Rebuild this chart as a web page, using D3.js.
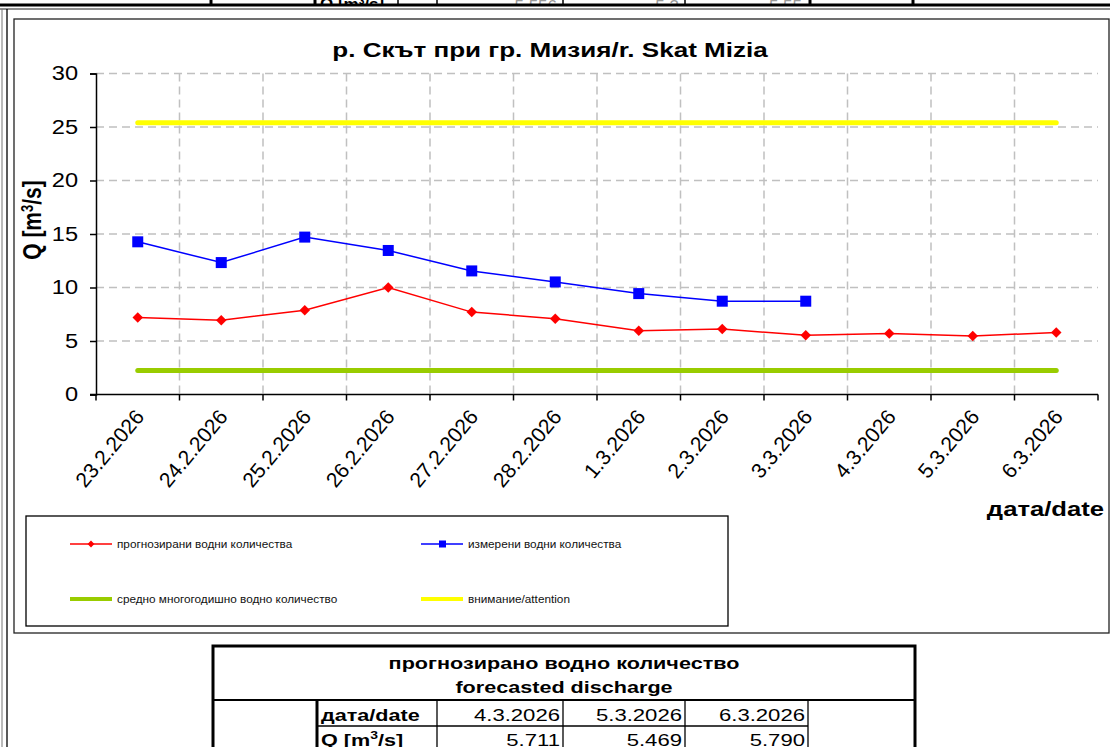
<!DOCTYPE html>
<html>
<head>
<meta charset="utf-8">
<script src="https://cdn.jsdelivr.net/npm/d3@7"></script>
<style>
    body { margin: 0; background: #fff; }
    svg { display: block; font-family: "Liberation Sans", Arial, sans-serif; }
</style>
</head>
<body>
<div id="chart"></div>
<script>
'use strict';

// дати по оста X
var dates = ['23.2.2026', '24.2.2026', '25.2.2026', '26.2.2026', '27.2.2026', '28.2.2026',
    '1.3.2026', '2.3.2026', '3.3.2026', '4.3.2026', '5.3.2026', '6.3.2026'];
// прогнозирани водни количества
var forecast = [7.2, 6.94, 7.88, 10.0, 7.7, 7.09, 5.96, 6.12, 5.53, 5.711, 5.469, 5.790];
// измерени водни количества
var measured = [14.27, 12.33, 14.71, 13.46, 11.55, 10.52, 9.43, 8.72, 8.72, null, null, null];
// средно многогодишно и праг за внимание
var meanLevel = [2.25];
var attentionLevel = [25.4];
var yTicks = [0, 5, 10, 15, 20, 25, 30];
// таблица отдолу
var tableDates = ['4.3.2026', '5.3.2026', '6.3.2026'];
var tableValues = ['5.711', '5.469', '5.790'];

var W = 1110, H = 747;
var svg = d3.select('#chart').append('svg').attr('width', W).attr('height', H);

// разтягане на текста по хоризонтала (оригиналът е разпънат)
function stretch(sel, k) {
    sel.each(function () {
        var len = this.getComputedTextLength();
        d3.select(this).attr('textLength', len * k).attr('lengthAdjust', 'spacingAndGlyphs');
    });
}

// ---- горна лента (остатък от таблица) ----
var topCols = [211, 315, 398, 437, 563, 685, 810, 913];
svg.append('g').selectAll('line').data(topCols).enter().append('line')
    .attr('x1', function (d) { return d; }).attr('x2', function (d) { return d; })
    .attr('y1', 0).attr('y2', 5)
    .attr('stroke', '#000').attr('stroke-width', function (d, i) { return (i === 1 || i === 6 || i === 7 || i === 0) ? 3 : 1.5; });
var clip = svg.append('clipPath').attr('id', 'topclip');
clip.append('rect').attr('x', 0).attr('y', 0).attr('width', W).attr('height', 4);
var topTxt = svg.append('g').attr('clip-path', 'url(#topclip)');
topTxt.append('text').attr('x', 320).attr('y', 10).attr('font-size', 17).attr('font-weight', 'bold').text('Q [m³/s]');
topTxt.selectAll('text.v').data(['5.556', '5.3', '5.55']).enter().append('text')
    .attr('class', 'v')
    .attr('x', function (d, i) { return [560, 682, 805][i] - 3; }).attr('y', 12)
    .attr('text-anchor', 'end').attr('font-size', 17).attr('fill', '#999').text(function (d) { return d; });
svg.append('line').attr('x1', 0).attr('x2', W).attr('y1', 5).attr('y2', 5).attr('stroke', '#000').attr('stroke-width', 3);
svg.append('line').attr('x1', 0).attr('x2', W).attr('y1', 9).attr('y2', 9).attr('stroke', '#222').attr('stroke-width', 1.2);

// ---- рамки ----
svg.append('line').attr('x1', 2).attr('x2', 2).attr('y1', 9).attr('y2', H).attr('stroke', '#777').attr('stroke-width', 1);
svg.append('line').attr('x1', 7).attr('x2', 7).attr('y1', 9).attr('y2', H).attr('stroke', '#000').attr('stroke-width', 1.3);
svg.append('rect').attr('x', 14).attr('y', 19).attr('width', 1095).attr('height', 614)
    .attr('fill', 'none').attr('stroke', '#222').attr('stroke-width', 1.3);

// ---- скали ----
var x = d3.scaleBand().domain(dates).range([96, 1098]);
var y = d3.scaleLinear().domain([0, 30]).range([394.5, 73.5]);
var cx = function (d) { return x(d) + x.bandwidth() / 2; };

// мрежа
var grid = svg.append('g').attr('stroke', '#c0c0c0').attr('stroke-width', 1.5).attr('stroke-dasharray', '8,5');
grid.selectAll('line.h').data(yTicks.slice(1)).enter().append('line')
    .attr('x1', x.range()[0]).attr('x2', x.range()[1])
    .attr('y1', function (d) { return y(d); }).attr('y2', function (d) { return y(d); });
grid.selectAll('line.v').data(dates.slice(1)).enter().append('line')
    .attr('x1', function (d) { return x(d); }).attr('x2', function (d) { return x(d); })
    .attr('y1', y(30)).attr('y2', y(0));

// ос Y
var yAxis = svg.append('g').attr('transform', 'translate(96,0)')
    .call(d3.axisLeft(y).tickValues(yTicks).tickSize(6).tickPadding(12));
yAxis.select('.domain').attr('stroke', '#000').attr('stroke-width', 1.5);
yAxis.selectAll('.tick line').attr('stroke', '#000').attr('stroke-width', 1.5);
yAxis.selectAll('text').attr('font-size', 20).attr('font-family', '"Liberation Sans", Arial, sans-serif').attr('fill', '#000');
stretch(yAxis.selectAll('text'), 1.18);

// ос X
var xg = svg.append('g');
xg.append('line').attr('x1', x.range()[0] - 6).attr('x2', x.range()[1])
    .attr('y1', y(0)).attr('y2', y(0)).attr('stroke', '#000').attr('stroke-width', 1.5);
xg.selectAll('line.t').data(dates.concat(['end'])).enter().append('line')
    .attr('x1', function (d, i) { return x.range()[0] + i * x.bandwidth(); })
    .attr('x2', function (d, i) { return x.range()[0] + i * x.bandwidth(); })
    .attr('y1', y(0)).attr('y2', y(0) + 6).attr('stroke', '#000').attr('stroke-width', 1.5);
xg.selectAll('text').data(dates).enter().append('text')
    .attr('transform', function (d) { return 'translate(' + (cx(d) + 2) + ',' + (y(0) + 18) + ') rotate(-50)'; })
    .attr('text-anchor', 'end').attr('dy', '0.35em').attr('font-size', 21).text(function (d) { return d; });

// заглавия
var title = svg.append('text').attr('x', 550).attr('y', 57).attr('text-anchor', 'middle')
    .attr('font-size', 21).attr('font-weight', 'bold').text('р. Скът при гр. Мизия/r. Skat Mizia');
stretch(title, 1.24);
svg.append('text').attr('transform', 'translate(41,220) scale(1.2,1) rotate(-90)').attr('text-anchor', 'middle')
    .attr('font-size', 21).attr('font-weight', 'bold')
    .html('Q [m<tspan dy="-7" font-size="13">3</tspan><tspan dy="7">/s]</tspan>');
var xTitle = svg.append('text').attr('x', 1104).attr('y', 516).attr('text-anchor', 'end')
    .attr('font-size', 21).attr('font-weight', 'bold').text('дата/date');
stretch(xTitle, 1.22);

// хоризонтални нива
var levelLine = function (val, color) {
    svg.append('line').datum(val)
        .attr('x1', cx(dates[0])).attr('x2', cx(dates[dates.length - 1]))
        .attr('y1', function (d) { return y(d); }).attr('y2', function (d) { return y(d); })
        .attr('stroke', color).attr('stroke-width', 5).attr('stroke-linecap', 'round');
};
levelLine(meanLevel[0], '#99cc00');
levelLine(attentionLevel[0], '#ffff00');

// серии
var line = d3.line().defined(function (d) { return d[1] != null; })
    .x(function (d) { return cx(d[0]); }).y(function (d) { return y(d[1]); });
var fData = dates.map(function (d, i) { return [d, forecast[i]]; });
var mData = dates.map(function (d, i) { return [d, measured[i]]; }).filter(function (d) { return d[1] != null; });

svg.append('path').datum(mData).attr('d', line).attr('fill', 'none').attr('stroke', '#0000ff').attr('stroke-width', 1.5);
svg.append('g').selectAll('rect').data(mData).enter().append('rect')
    .attr('x', function (d) { return cx(d[0]) - 5.5; }).attr('y', function (d) { return y(d[1]) - 5.5; })
    .attr('width', 11).attr('height', 11).attr('fill', '#0000ff');

svg.append('path').datum(fData).attr('d', line).attr('fill', 'none').attr('stroke', '#ff0000').attr('stroke-width', 1.5);
var diamond = d3.symbol().type(d3.symbolDiamond2).size(70);
svg.append('g').selectAll('path').data(fData).enter().append('path')
    .attr('d', diamond)
    .attr('transform', function (d) { return 'translate(' + cx(d[0]) + ',' + y(d[1]) + ')'; })
    .attr('fill', '#ff0000');

// ---- легенда ----
svg.append('rect').attr('x', 26).attr('y', 516).attr('width', 702).attr('height', 110)
    .attr('fill', 'none').attr('stroke', '#000').attr('stroke-width', 1.3);
var legendItems = [
    {name: 'прогнозирани водни количества', color: '#ff0000', w: 1.5, mark: 'diamond', lx: 70, ly: 544},
    {name: 'измерени водни количества', color: '#0000ff', w: 1.5, mark: 'square', lx: 421, ly: 544},
    {name: 'средно многогодишно водно количество', color: '#99cc00', w: 4, mark: null, lx: 70, ly: 599},
    {name: 'внимание/attention', color: '#ffff00', w: 4, mark: null, lx: 421, ly: 599}
];
var lg = svg.append('g').selectAll('g').data(legendItems).enter().append('g')
    .attr('transform', function (d) { return 'translate(' + d.lx + ',' + d.ly + ')'; });
lg.append('line').attr('x1', 0).attr('x2', 42).attr('y1', 0).attr('y2', 0)
    .attr('stroke', function (d) { return d.color; }).attr('stroke-width', function (d) { return d.w; });
lg.filter(function (d) { return d.mark === 'diamond'; }).append('path')
    .attr('d', d3.symbol().type(d3.symbolDiamond2).size(30)).attr('transform', 'translate(21,0)').attr('fill', '#ff0000');
lg.filter(function (d) { return d.mark === 'square'; }).append('rect')
    .attr('x', 18).attr('y', -3.5).attr('width', 7).attr('height', 7).attr('fill', '#0000ff');
var lgText = lg.append('text').attr('x', 47).attr('dy', '0.35em').attr('font-size', 10.5).attr('fill', '#111')
    .text(function (d) { return d.name; });
stretch(lgText, 1.12);

// ---- таблица отдолу ----
var tb = svg.append('g');
tb.append('rect').attr('x', 213).attr('y', 646).attr('width', 702).attr('height', 120)
    .attr('fill', 'none').attr('stroke', '#000').attr('stroke-width', 3);
tb.append('line').attr('x1', 213).attr('x2', 915).attr('y1', 700).attr('y2', 700).attr('stroke', '#000').attr('stroke-width', 2);
var h1 = tb.append('text').attr('x', 564).attr('y', 669).attr('text-anchor', 'middle').attr('font-size', 17).attr('font-weight', 'bold')
    .text('прогнозирано водно количество');
var h2 = tb.append('text').attr('x', 564).attr('y', 693).attr('text-anchor', 'middle').attr('font-size', 17).attr('font-weight', 'bold')
    .text('forecasted discharge');
stretch(h1, 1.27);
stretch(h2, 1.27);
var colX = [317, 437, 563, 685, 808];
tb.selectAll('line.c').data(colX).enter().append('line')
    .attr('x1', function (d) { return d; }).attr('x2', function (d) { return d; })
    .attr('y1', 700).attr('y2', H)
    .attr('stroke', '#000').attr('stroke-width', function (d, i) { return i === 0 ? 3 : 1.3; });
tb.append('line').attr('x1', 317).attr('x2', 808).attr('y1', 726).attr('y2', 726).attr('stroke', '#000').attr('stroke-width', 1.3);
var dd = tb.append('text').attr('x', 321).attr('y', 721).attr('font-size', 17).attr('font-weight', 'bold').text('дата/date');
stretch(dd, 1.27);
tb.append('text').attr('transform', 'translate(321,746) scale(1.27,1)').attr('font-size', 17).attr('font-weight', 'bold')
    .html('Q [m<tspan dy="-7" font-size="11">3</tspan><tspan dy="7">/s]</tspan>');
var td = tb.selectAll('text.d').data(tableDates).enter().append('text')
    .attr('x', function (d, i) { return colX[i + 2] - 3; }).attr('y', 721)
    .attr('text-anchor', 'end').attr('font-size', 17).text(function (d) { return d; });
var tq = tb.selectAll('text.q').data(tableValues).enter().append('text')
    .attr('x', function (d, i) { return colX[i + 2] - 3; }).attr('y', 746)
    .attr('text-anchor', 'end').attr('font-size', 17).text(function (d) { return d; });
stretch(td, 1.3);
stretch(tq, 1.3);
</script>
</body>
</html>
